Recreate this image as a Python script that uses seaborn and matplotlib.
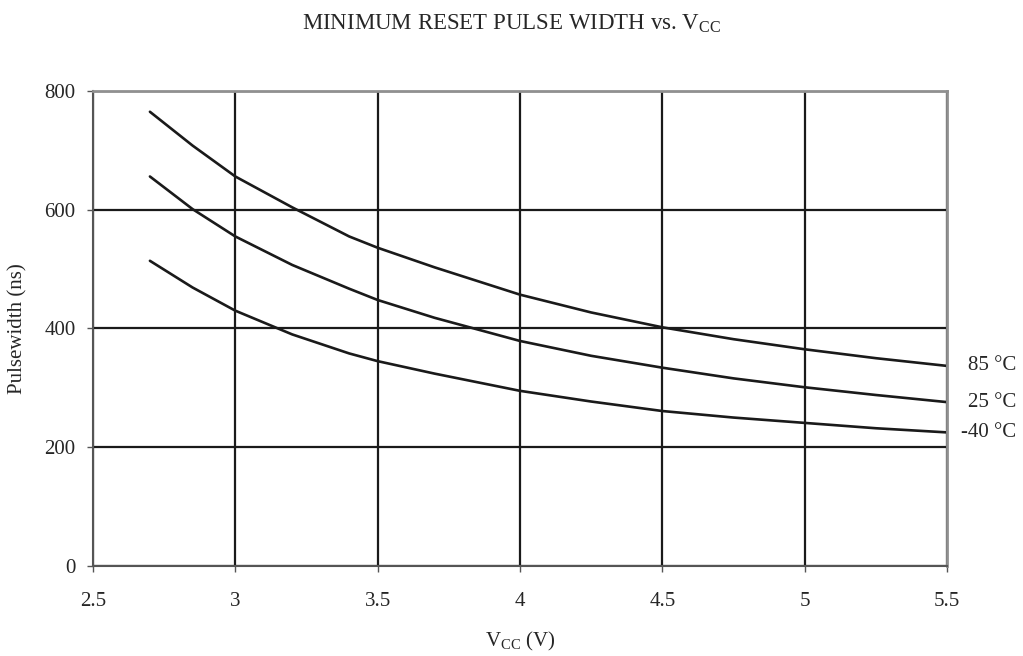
import numpy as np
import pandas as pd
import matplotlib
matplotlib.use("Agg")
import matplotlib.pyplot as plt
import seaborn as sns

# supply voltage (V) and pulse width (ns)
vcc = [2.7, 2.85, 3.0, 3.2, 3.4, 3.5, 3.7, 4.0, 4.25, 4.5, 4.75, 5.0, 5.25, 5.5]
pw_85 = [765, 708, 656, 604, 555, 536, 503, 457, 427, 402, 382, 365, 350, 337]
pw_25 = [656, 601, 555, 507, 467, 448, 418, 379, 354, 334, 316, 301, 288, 276]
pw_m40 = [514, 469, 430, 390, 358, 345, 324, 295, 277, 261, 250, 241, 232, 225]
temps = ["85 °C", "25 °C", "-40 °C"]

df = pd.DataFrame({
    "vcc": vcc * 3,
    "pw": pw_85 + pw_25 + pw_m40,
    "temp": [t for t in temps for _ in vcc],
})

sns.set_style("white")
plt.rcParams["font.family"] = ["Liberation Serif", "DejaVu Serif"]

fig = plt.figure(figsize=(10.23, 6.56), dpi=100)
ax = fig.add_axes([0.0909, 0.1372, 0.8348, 0.7241])

sns.lineplot(data=df, x="vcc", y="pw", hue="temp", palette=["#1a1a1a"] * 3,
             linewidth=1.9, legend=False, ax=ax, sort=False)

ax.set_xlim(2.5, 5.5)
ax.set_ylim(0, 800)
ax.set_xticks([2.5, 3, 3.5, 4, 4.5, 5, 5.5])
ax.set_xticklabels(["2.5", "3", "3.5", "4", "4.5", "5", "5.5"])
ax.set_yticks([0, 200, 400, 600, 800])
ax.grid(True, color="#1a1a1a", linewidth=1.6)
ax.set_axisbelow(True)

for s in ["left", "bottom"]:
    ax.spines[s].set_color("#555555")
    ax.spines[s].set_linewidth(1.5)
for s in ["top", "right"]:
    ax.spines[s].set_color("#909090")
    ax.spines[s].set_linewidth(2)

ax.tick_params(axis="both", which="both", direction="out", length=4.5, width=1,
               color="#555555", labelsize=15, bottom=True, left=True)
ax.tick_params(axis="y", pad=8)
ax.tick_params(axis="x", pad=14)

ax.set_xlabel("V$_{\\mathregular{CC}}$ (V)", fontsize=15, labelpad=14)
ax.set_ylabel("Pulsewidth (ns)", fontsize=15, labelpad=12)
fig.suptitle("MINIMUM RESET PULSE WIDTH vs. V$_{\\mathregular{CC}}$", fontsize=16.5, y=0.982)

# curve labels at the right end
for t, series in zip(temps, [pw_85, pw_25, pw_m40]):
    ax.annotate(t, xy=(0.993, series[-1]), xycoords=("figure fraction", "data"),
                ha="right", va="center", fontsize=15)

fig.savefig("out.png", dpi=100)
